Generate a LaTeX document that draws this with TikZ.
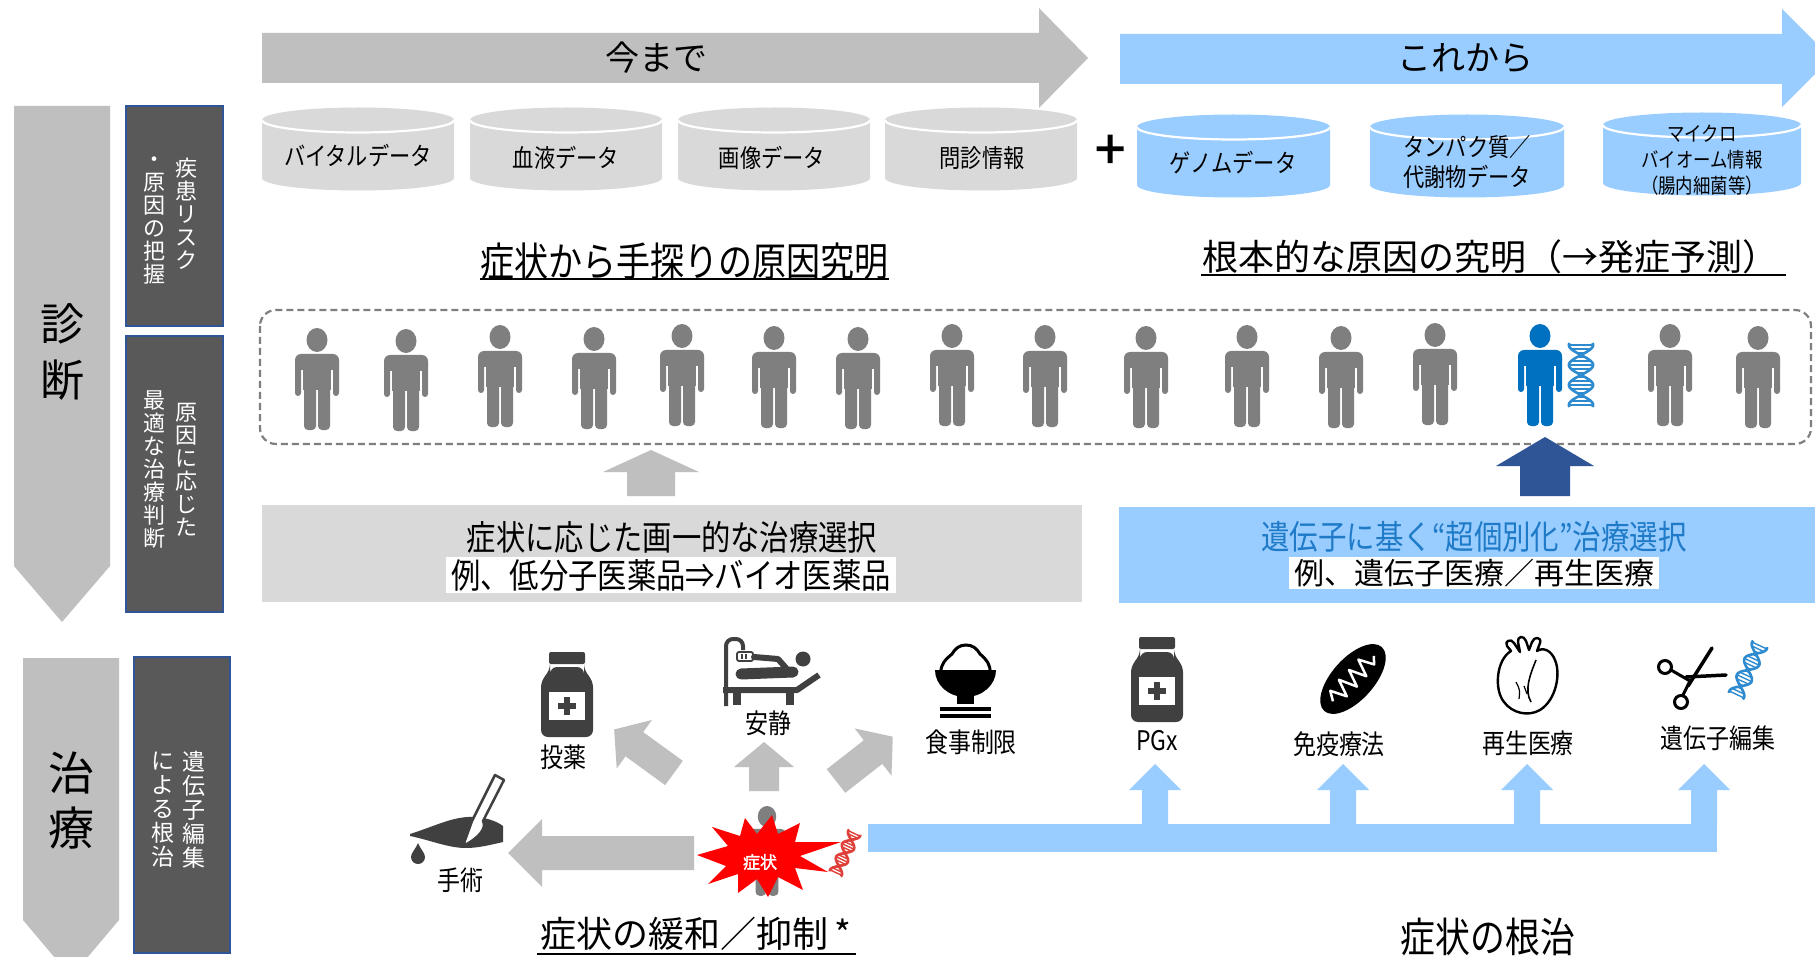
\documentclass[tikz,border=0pt]{standalone}
\usepackage{fontspec}
\setmainfont{Noto Sans CJK JP}
\newfontfamily\jpheavy[FakeBold=2]{Noto Sans CJK JP}
\newfontfamily\jpnarrow[FakeStretch=0.85]{Noto Sans CJK JP}
\newcommand\fsz[2]{\fontsize{#1}{#2}\selectfont}

\definecolor{arrowgray}{HTML}{BFBFBF}
\definecolor{skyblue}{HTML}{99CCFF}
\definecolor{boxgray}{HTML}{D9D9D9}
\definecolor{darkbox}{HTML}{595959}
\definecolor{boxedge}{HTML}{2F5597}
\definecolor{figgray}{HTML}{7F7F7F}
\definecolor{figblue}{HTML}{0070C0}
\definecolor{navy}{HTML}{2F5597}
\definecolor{icondark}{HTML}{404040}
\definecolor{helixblue}{HTML}{2E8BD0}
\definecolor{helixred}{HTML}{E0403A}
\definecolor{textblue}{HTML}{1F7BC8}
\definecolor{burst}{HTML}{FF0000}

% data store drawn as a cylinder: left x, right x, top-centre y, bottom-centre y, y radius, fill
\newcommand\drum[6]{%
  \pgfmathsetmacro\drumrx{(#2-#1)/2}%
  \fill[#6] (#1,#3) -- (#1,#4) arc[start angle=180,end angle=0,x radius=\drumrx,y radius=#5]
    -- (#2,#3) arc[start angle=0,end angle=-180,x radius=\drumrx,y radius=#5] -- cycle;
  \draw[white,line width=2.2] (#1,#3) arc[start angle=180,end angle=0,x radius=\drumrx,y radius=#5];
}
% upward block arrow: centre x, tip y, head base y, bottom y, head half width, shaft half width, fill
\newcommand\uparr[7]{%
  \fill[#7] (#1,#2) -- ({#1+#5},#3) -- ({#1+#6},#3) -- ({#1+#6},#4) -- ({#1-#6},#4)
    -- ({#1-#6},#3) -- ({#1-#5},#3) -- cycle;
}

\tikzset{
  human/.pic={
    \fill[pic actions] (0,12) ellipse [x radius=10.5, y radius=12];
    \fill[pic actions, rounded corners=6] (-22,26) rectangle (22,42);
    \fill[pic actions] (-14,32) rectangle (14,62);
    \fill[pic actions, rounded corners=3] (-22,32) rectangle (-16,68);
    \fill[pic actions, rounded corners=3] (16,32) rectangle (22,68);
    \fill[pic actions, rounded corners=4] (-13,56) rectangle (-1,102);
    \fill[pic actions, rounded corners=4] (1,56) rectangle (13,102);
  },
  helix/.pic={
    \draw[pic actions, line width=2.6] plot[domain=-32:32, samples=50, smooth] ({9*sin(\x*9)},\x);
    \draw[pic actions, line width=2.6] plot[domain=-32:32, samples=50, smooth] ({-9*sin(\x*9)},\x);
    \foreach \t in {-30,-26,...,30}
      \draw[pic actions, line width=1.4] ({9*sin(\t*9)},\t) -- ({-9*sin(\t*9)},\t);
  },
  vial/.pic={
    \fill[icondark, rounded corners=2] (-18,0) rectangle (18,12);
    \fill[icondark, rounded corners=7] (-17,15) -- (17,15) -- (17,19) -- (26,28) -- (26,85)
      -- (-26,85) -- (-26,28) -- (-17,19) -- cycle;
    \fill[white] (-18,40) rectangle (18,68);
    \fill[icondark] (-2.8,45) rectangle (2.8,63);
    \fill[icondark] (-9,51.2) rectangle (9,56.8);
  },
}

\begin{document}
\begin{tikzpicture}[x=1pt,y=-1pt,
  tag/.style={inner sep=0pt, font=\jpnarrow\fsz{27}{30}},
  drumtxt/.style={inner sep=0pt, align=center, font=\jpnarrow\fsz{25}{30}},
  vcol/.style={inner sep=0pt, align=center, text=white, font=\fsz{22}{23}},
  sidebox/.style={draw=boxedge, fill=darkbox, line width=1.6, inner sep=0pt},
  heading/.style={inner sep=0pt, font=\fsz{34}{40}},
  narrowhead/.style={inner sep=0pt, font=\jpnarrow\fsz{40}{44}},
  boxline/.style={inner sep=0pt, font=\jpnarrow\fsz{34.5}{38}},
  hilite/.style={fill=white, inner xsep=5pt, inner ysep=2pt},
  ]
\useasboundingbox (0,0) rectangle (1815,957);
\fill[white] (0,0) rectangle (1815,957);

% ---- time banners
\fill[arrowgray] (262,33) -- (1039,33) -- (1039,8) -- (1088,58) -- (1039,108) -- (1039,83) -- (262,83) -- cycle;
\node[heading] (past) at (656,58) {今まで};
\fill[skyblue] (1120,34) -- (1782,34) -- (1782,9) -- (1831,58) -- (1782,107) -- (1782,84) -- (1120,84) -- cycle;
\node[heading] (future) at (1465,58) {これから};

% ---- left phase arrows and captions
\fill[arrowgray] (14,106) -- (110,106) -- (110,566) -- (62,622) -- (14,566) -- cycle;
\node[font=\fsz{44}{56}, align=center, inner sep=0pt] (diag) at (62,352) {診\\断};
\fill[arrowgray] (23,658) -- (119,658) -- (119,920) -- (71,977) -- (23,920) -- cycle;
\node[font=\fsz{46}{55}, align=center, inner sep=0pt] (treat) at (71,801) {治\\療};

\node[sidebox, minimum width=97, minimum height=220] (risk) at (174.5,216) {};
\node[vcol, anchor=north] (riskR) at (186,158) {疾\\患\\リ\\ス\\ク};
\node[vcol, anchor=north] (riskL) at (154,157) {・\\原\\因\\の\\把\\握};
\node[sidebox, minimum width=97, minimum height=276] (choice) at (174.5,474) {};
\node[vcol] (choiceR) at (186,470) {原\\因\\に\\応\\じ\\た};
\node[vcol] (choiceL) at (154,470) {最\\適\\な\\治\\療\\判\\断};
\node[sidebox, minimum width=96, minimum height=296] (edit) at (182,805) {};
\node[vcol, font=\fsz{23}{24}] (editR) at (194,810) {遺\\伝\\子\\編\\集};
\node[vcol, font=\fsz{23}{24}] (editL) at (163,810) {に\\よ\\る\\根\\治};

% ---- data sources
\drum{262}{454}{120}{178}{12.5}{boxgray}
\drum{470}{662}{120}{178}{12.5}{boxgray}
\drum{678}{870}{120}{178}{12.5}{boxgray}
\drum{885}{1077}{120}{178}{12.5}{boxgray}
\node[drumtxt] (vital) at (358,156) {バイタルデータ};
\node[drumtxt] (blood) at (566,158) {血液データ};
\node[drumtxt] (image) at (772,158) {画像データ};
\node[drumtxt] (inquiry) at (982,158) {問診情報};
\node[inner sep=0pt, font=\jpheavy\fsz{54}{54}] (plus) at (1110,152) {+};
\drum{1137}{1330}{127}{185}{12.5}{skyblue}
\drum{1370}{1564}{127}{185}{12.5}{skyblue}
\drum{1603}{1801}{125}{183}{12.5}{skyblue}
\node[drumtxt] (genome) at (1233,163) {ゲノムデータ};
\node[drumtxt] (protein) at (1467,162) {タンパク質／\\代謝物データ};
\node[drumtxt, font=\jpnarrow\fsz{20.5}{26}] (microbe) at (1702,160) {マイクロ\\バイオーム情報\\（腸内細菌等）};

% ---- headings of the two approaches
\node[narrowhead] (h1) at (684,261) {症状から手探りの原因究明};
\draw[line width=2.2] (480,279) -- (889,279);
\node[heading, font=\fsz{36}{40}] (h2) at (1490,257) {根本的な原因の究明（→発症予測）};
\draw[line width=2.2] (1201,275) -- (1786,275);

% ---- population
\draw[figgray, line width=2.2, dash pattern=on 7pt off 4pt, rounded corners=16] (260,310) rectangle (1811,444);
\foreach \px/\py in {317/328, 406/329, 500/325, 594/327, 682/324, 774/326, 858/327, 952/324,
                     1045/325, 1146/326, 1247/325, 1341/326, 1435/323, 1670/324, 1758/326}
  \pic[fill=figgray] at (\px,\py) {human};
\pic[fill=figblue] at (1540,324) {human};
\pic[draw=helixblue, xscale=1.35] at (1581,375) {helix};

% ---- treatment selection
\uparr{651}{450}{472}{496}{48}{24}{arrowgray}
\uparr{1545}{437}{466}{496}{49}{25}{navy}
\node[fill=boxgray, minimum width=820, minimum height=97, inner sep=0pt] (std) at (672,553) {};
\node[boxline] (stdA) at (672,537) {症状に応じた画一的な治療選択};
\node[boxline, hilite] (stdB) at (671,575) {例、低分子医薬品⇒バイオ医薬品};
\node[fill=skyblue, minimum width=700, minimum height=96, inner sep=0pt] (pers) at (1469,555) {};
\node[boxline, font=\jpnarrow\fsz{33.5}{38}, text=textblue] (persA) at (1474,537) {遺伝子に基く“超個別化”治療選択};
\node[hilite, inner sep=0pt, inner xsep=5pt, inner ysep=2pt, font=\fsz{30}{34}] (persB) at (1474,573) {例、遺伝子医療／再生医療};

% ---- symptomatic treatments
\pic at (567,652) {vial};
\node[tag] (drug) at (563,757) {投薬};

% bed rest
\draw[icondark, line width=4, rounded corners=7] (726,706) -- (726,639) -- (743,639) -- (743,650);
\draw[icondark, line width=1.8, rounded corners=2] (737,652) rectangle (753,661);
\draw[icondark, line width=1.4] (742,654) -- (742,659) (746,654) -- (746,659);
\draw[icondark, line width=6, line cap=round, line join=round] (754,657) -- (778,659) -- (786,668);
\draw[icondark, line width=11, line cap=round] (741,674) -- (793,672);
\fill[icondark] (803,659) circle (7.5);
\draw[icondark, line width=6, line join=round] (723,690) -- (797,690) -- (819,675);
\fill[icondark] (733,690) rectangle (741,705);
\fill[icondark] (786,690) rectangle (794,705);
\node[tag] (rest) at (768,723) {安静};

% diet
\draw[black, fill=white, line width=3] (941,673) to[out=95,in=220] (952,654) to[out=60,in=180] (966,645)
  to[out=0,in=120] (980,654) to[out=-40,in=85] (990,673);
\fill[black] (935,670) arc[start angle=180,end angle=0,x radius=30.5,y radius=27] -- cycle;
\fill[black] (957,693) rectangle (974,704);
\fill[black] (940,707) rectangle (991,711);
\fill[black] (940,714) rectangle (991,718);
\node[tag] (diet) at (971,742) {食事制限};

% surgery
\fill[icondark] (410,834) .. controls (435,826) and (450,818) .. (468,817) .. controls (485,816) and (498,822) .. (503,826)
  -- (503,842) .. controls (490,845) and (478,848) .. (466,848) .. controls (448,848) and (430,840) .. (410,836) -- cycle;
\filldraw[fill=white, draw=icondark, line width=2.5, line join=round] (495,775) -- (504,780) -- (483,821)
  .. controls (487,828) and (479,838) .. (463,846) -- (472,821) -- cycle;
\fill[icondark] (418,843) .. controls (421,850) and (425,853) .. (425,857)
  arc[start angle=0,end angle=180,radius=7] .. controls (411,853) and (415,850) .. (418,843) -- cycle;
\node[tag] (surgery) at (460,880) {手術};

% arrows from the symptom to the treatments
\fill[arrowgray] (694,836) -- (542,836) -- (542,819) -- (508,853) -- (542,887) -- (542,870) -- (694,870) -- cycle;
\uparr{764}{742}{767}{791}{30}{15}{arrowgray}
\begin{scope}[shift={(674,773)}, rotate=54]
  \uparr{0}{-74}{-49}{0}{30}{15}{arrowgray}
\end{scope}
\begin{scope}[shift={(836,781)}, rotate=-52]
  \uparr{0}{-72}{-47}{0}{30}{15}{arrowgray}
\end{scope}

% patient with a symptom
\pic[fill=figgray, scale=0.88] at (767,806) {human};
\fill[burst] (697,855) -- (728,846) -- (712,827) -- (740,836) -- (745,818) -- (757,834) -- (772,815)
  -- (778,834) -- (800,823) -- (795,842) -- (841,842) -- (800,856) -- (828,872) -- (795,868)
  -- (803,890) -- (778,877) -- (768,897) -- (757,879) -- (738,893) -- (738,874) -- (708,884)
  -- (726,866) -- cycle;
\node[inner sep=0pt, text=white, font=\jpheavy\fsz{17}{20}] (symptom) at (760,862) {症状};
\pic[draw=helixred, rotate=-25, scale=0.72] at (845,853) {helix};

% ---- curative treatments
\fill[skyblue] (868,824) rectangle (1717,852);
\uparr{1155}{764}{790}{826}{26}{13}{skyblue}
\uparr{1343}{764}{790}{826}{26}{13}{skyblue}
\uparr{1527}{764}{790}{826}{26}{13}{skyblue}
\uparr{1704}{764}{790}{826}{26}{13}{skyblue}

\pic at (1157,637) {vial};
\node[tag] (pgx) at (1157,741) {PGx};

\begin{scope}[shift={(1353,679)}, rotate=48]
  \fill[black] (0,0) ellipse [x radius=43, y radius=21];
  \draw[white, line width=2.5, line join=round] (-30,0) -- (-24,-9) -- (-17,7) -- (-10,-10) -- (-3,8)
    -- (4,-9) -- (11,8) -- (18,-9) -- (25,6) -- (31,0);
\end{scope}
\node[tag] (immune) at (1339,744) {免疫療法};

\draw[black, fill=white, line width=2.4, line join=round]
  (1511,651) .. controls (1496,660) and (1494,690) .. (1504,702)
  .. controls (1512,713) and (1528,717) .. (1540,710)
  .. controls (1556,700) and (1561,674) .. (1555,660)
  .. controls (1551,650) and (1543,647) .. (1537,651)
  -- (1540,643) .. controls (1542,637) and (1534,636) .. (1532,642) -- (1529,650)
  -- (1526,641) .. controls (1524,635) and (1517,636) .. (1518,642) -- (1520,652)
  -- (1514,643) .. controls (1511,638) and (1504,641) .. (1507,646) -- cycle;
\draw[black, line width=1.6] (1536,660) .. controls (1530,675) and (1524,690) .. (1531,702);
\draw[black, line width=1.2] (1516,682) .. controls (1520,690) .. (1519,699) (1524,686) -- (1527,694);
\node[tag] (regen) at (1528,743) {再生医療};

\draw[black, line width=3.5, line cap=round] (1688,686) -- (1712,648);
\draw[black, line width=3.5, line cap=round] (1686,677) -- (1726,675);
\draw[black, line width=3] (1690,681) -- (1671,670) (1690,681) -- (1683,695);
\draw[black, line width=3] (1665,667) circle (6.5);
\draw[black, line width=3] (1681,702) circle (6.5);
\pic[draw=helixblue, rotate=-25, scale=0.9] at (1748,670) {helix};
\node[tag] (editing) at (1718,738) {遺伝子編集};

% ---- outcomes
\node[heading, font=\fsz{36}{40}] (h3) at (696,934) {症状の緩和／抑制\,*};
\draw[line width=2.2] (537,954) -- (856,954);
\node[narrowhead, font=\jpnarrow\fsz{41}{44}] (h4) at (1488,937) {症状の根治};
\end{tikzpicture}
\end{document}
